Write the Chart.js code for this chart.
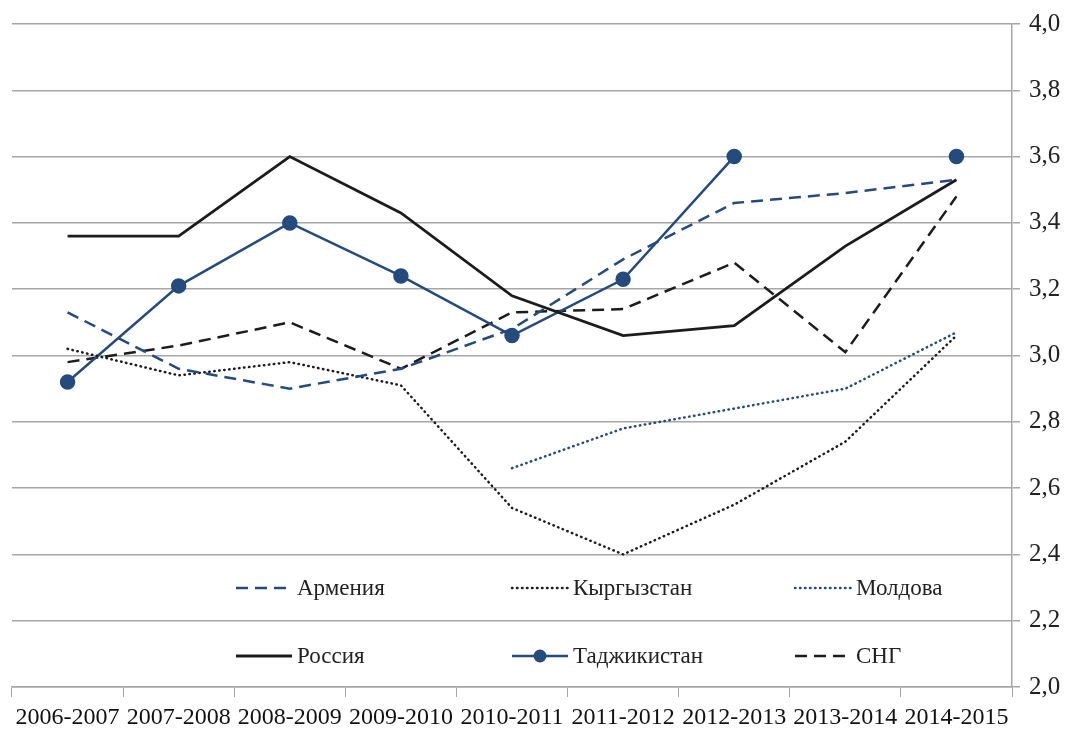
<!DOCTYPE html>
<html lang="ru">
<head>
  <meta charset="UTF-8" />
  <title>Индекс</title>
  <script src="https://cdn.jsdelivr.net/npm/chart.js"></script>
  <style>
    html, body { margin: 0; padding: 0; background: #fff; }
    #wrap { width: 1065px; height: 732px; }
  </style>
</head>
<body>
  <div id="wrap"><canvas id="lineChart"></canvas></div>
  <script>
    // data
    const years = ['2006-2007', '2007-2008', '2008-2009', '2009-2010', '2010-2011',
                   '2011-2012', '2012-2013', '2013-2014', '2014-2015'];
    const armenia    = [3.13, 2.96, 2.90, 2.96, 3.08, 3.29, 3.46, 3.49, 3.53];
    const kyrgyzstan = [3.02, 2.94, 2.98, 2.91, 2.54, 2.40, 2.55, 2.74, 3.06];
    const moldova    = [null, null, null, null, 2.66, 2.78, 2.84, 2.90, 3.07];
    const russia     = [3.36, 3.36, 3.60, 3.43, 3.18, 3.06, 3.09, 3.33, 3.53];
    const tajikistan = [2.92, 3.21, 3.40, 3.24, 3.06, 3.23, 3.60, null, 3.60];
    const cis        = [2.98, 3.03, 3.10, 2.96, 3.13, 3.14, 3.28, 3.01, 3.48];
    const yTicks = ['2,0', '2,2', '2,4', '2,6', '2,8', '3,0', '3,2', '3,4', '3,6', '3,8', '4,0'];

    const blue = '#254b7c';
    const black = '#1c1c1c';
    const serif = '"Liberation Serif", "Times New Roman", serif';

    function series(label, data, color, dash, extra) {
      return Object.assign({
        label: label,
        data: data,
        borderColor: color,
        backgroundColor: color,
        borderWidth: 2.5,
        borderDash: dash,
        pointRadius: 0,
        pointHoverRadius: 0,
        tension: 0,
        spanGaps: false,
        fill: false
      }, extra || {});
    }

    // legend drawn inside the plot, 3 columns x 2 rows
    const innerLegend = {
      id: 'innerLegend',
      afterDatasetsDraw(chart) {
        const ctx = chart.ctx;
        const cols = [236, 512, 795];
        const rows = [588, 656];
        const sampleW = 56;
        ctx.save();
        ctx.font = '23px ' + serif;
        ctx.textBaseline = 'middle';
        chart.data.datasets.forEach((ds, i) => {
          const x = cols[i % 3];
          const y = rows[Math.floor(i / 3)];
          ctx.strokeStyle = ds.borderColor;
          ctx.lineWidth = ds.borderWidth;
          ctx.lineCap = ds.borderCapStyle || 'butt';
          ctx.setLineDash(ds.borderDash || []);
          ctx.beginPath();
          ctx.moveTo(x, y);
          ctx.lineTo(x + sampleW, y);
          ctx.stroke();
          if (ds.pointRadius > 0) {
            ctx.setLineDash([]);
            ctx.fillStyle = ds.backgroundColor;
            ctx.beginPath();
            ctx.arc(x + sampleW / 2, y, ds.pointRadius, 0, Math.PI * 2);
            ctx.fill();
          }
          ctx.fillStyle = '#222';
          ctx.fillText(ds.label, x + sampleW + 5, y + 1);
        });
        ctx.restore();
      }
    };

    const ctx = document.getElementById('lineChart').getContext('2d');
    new Chart(ctx, {
      type: 'line',
      data: {
        labels: years,
        datasets: [
          series('Армения', armenia, blue, [12, 7]),
          series('Кыргызстан', kyrgyzstan, black, [0.5, 4.5], { borderCapStyle: 'round' }),
          series('Молдова', moldova, blue, [0.5, 4.5], { borderCapStyle: 'round' }),
          series('Россия', russia, black, [], { borderWidth: 2.8 }),
          series('Таджикистан', tajikistan, blue, [], { pointRadius: 6.5, pointHoverRadius: 6.5 }),
          series('СНГ', cis, black, [12, 7])
        ]
      },
      options: {
        responsive: true,
        maintainAspectRatio: false,
        animation: false,
        layout: { padding: { left: 12, top: 11, right: 0, bottom: 0 } },
        plugins: {
          legend: { display: false },
          tooltip: { enabled: false }
        },
        scales: {
          x: {
            offset: true,
            afterFit: (scale) => { scale.height = 45; },
            grid: {
              offset: true,
              drawOnChartArea: false,
              drawTicks: true,
              tickLength: 10,
              color: '#a6a6a6'
            },
            border: { display: true, color: '#a6a6a6', width: 1.5 },
            ticks: {
              autoSkip: false,
              maxRotation: 0,
              padding: 6,
              color: '#111',
              font: { family: serif, size: 24 }
            }
          },
          y: {
            position: 'right',
            min: 2,
            max: 4,
            afterFit: (scale) => { scale.width = 53; },
            grid: { color: '#a6a6a6', lineWidth: 1.5, tickLength: 8 },
            border: { display: true, color: '#a6a6a6', width: 1.5 },
            ticks: {
              stepSize: 0.2,
              padding: 9,
              color: '#222',
              font: { family: serif, size: 25 },
              callback: (v, i) => yTicks[i]
            }
          }
        }
      },
      plugins: [innerLegend]
    });
  </script>
</body>
</html>
